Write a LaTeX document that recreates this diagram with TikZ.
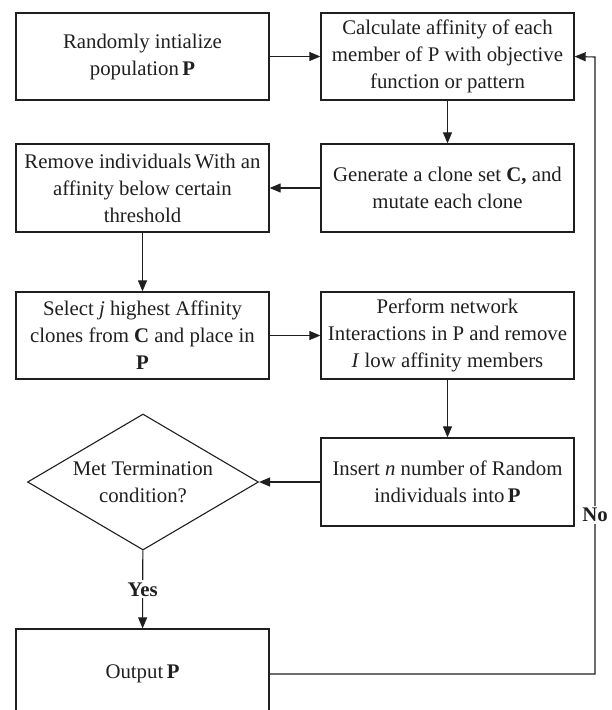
\documentclass[tikz,border=0pt]{standalone}
\usepackage{fontspec}
\setmainfont{Liberation Serif}
\usetikzlibrary{shapes.geometric,arrows.meta}
\begin{document}
\begin{tikzpicture}[x=1pt,y=-1pt,
  font=\fontsize{20.8}{27}\selectfont,
  color={black!88},
  procbox/.style={draw,line width=1.3pt,minimum width=253pt,minimum height=87pt,inner sep=0pt,align=center},
  decis/.style={draw,line width=1.1pt,shape=diamond,minimum width=231pt,minimum height=136pt,inner sep=0pt},
  flow/.style={line width=1.1pt,-{Triangle[length=11pt,width=9pt]}},
  lbl/.style={fill=white,inner sep=2pt,font=\fontsize{20.8}{27}\selectfont\bfseries}]
\useasboundingbox (0,0) rectangle (612,710);
\node[procbox] (b1) at (142.5,56.5) {Randomly intialize\\population\,\textbf{P}};
\node[procbox] (b2) at (447.5,56.5) {Calculate affinity of each\\member of P with\ objective\\function or pattern};
\node[procbox,minimum height=88pt] (b3) at (447.5,188) {Generate a clone set \textbf{C,} and\\mutate each clone};
\node[procbox,minimum height=88pt] (b4) at (142.5,188) {Remove individuals\,With an\\affinity below certain\\threshold};
\node[procbox] (b5) at (142.5,335.5) {Select \textit{j} highest Affinity\\clones from \textbf{C} and place in\\\textbf{P}};
\node[procbox] (b6) at (447.5,335.5) {Perform network\\Interactions in P and remove\\\textit{I} low affinity members};
\node[procbox,minimum height=88pt] (b7) at (447.5,482) {Insert \textit{n} number of Random\\individuals into\,\textbf{P}};
\node[decis,label={[align=center]center:Met Termination\\condition?}] (dia) at (143,482) {};
\node[procbox,minimum height=90pt] (b8) at (142.5,674) {Output\,\textbf{P}};
\coordinate (cr) at (595,674);
\coordinate (tr) at (595,57);
\draw[flow] (b1) -- (b2);
\draw[flow] (b2) -- (b3);
\draw[flow] (b3) -- (b4);
\draw[flow] (b4) -- (b5);
\draw[flow] (b5) -- (b6);
\draw[flow] (b6) -- (b7);
\draw[flow] (b7) -- (dia);
\draw[flow] (dia) -- node[lbl] {Yes} (b8);
\draw[flow] (b8.east) -- (cr) -- node[lbl,pos=0.258] {No} (tr) -- (b2.east);
\end{tikzpicture}
\end{document}
